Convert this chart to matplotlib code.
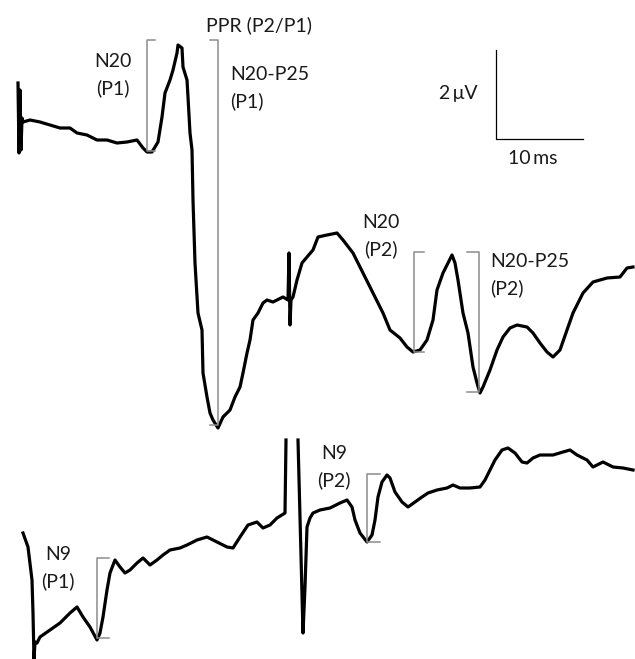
import numpy as np
import matplotlib
matplotlib.use("Agg")
import matplotlib.pyplot as plt

# Cortical trace (N20 for pulse 1 and pulse 2)
top_t = [18, 19, 20, 21, 22, 23, 30, 40, 50, 60, 70, 77, 87, 97, 107, 117, 127, 137,
         143, 147, 152, 155, 158, 162, 165, 170, 173, 177, 178, 182, 183, 187, 188,
         190, 192, 193, 195, 198, 202, 203, 207, 210, 213, 218, 223, 230, 235, 240,
         243, 247, 250, 253, 258, 263, 267, 273, 283, 288, 289, 290, 291, 293, 297,
         302, 307, 313, 318, 327, 337, 343, 353, 363, 373, 383, 390, 400, 407, 413,
         420, 427, 433, 437, 443, 448, 452, 455, 458, 463, 468, 473, 477, 480, 483,
         490, 497, 503, 510, 517, 527, 533, 540, 547, 553, 560, 567, 573, 583, 593,
         607, 620, 627, 633]
top_v = [83, 153, 90, 150, 118, 122, 120, 122, 125, 128, 128, 133, 135, 140, 140, 143,
         142, 140, 148, 152, 152, 147, 142, 117, 93, 80, 70, 53, 45, 48, 67, 80, 97,
         133, 150, 200, 263, 313, 330, 373, 397, 413, 420, 428, 417, 410, 397, 387,
         373, 353, 340, 320, 313, 303, 300, 302, 297, 300, 253, 325, 300, 297, 280,
         263, 257, 250, 237, 235, 233, 240, 253, 273, 293, 313, 330, 338, 347, 352,
         350, 340, 320, 290, 273, 263, 255, 263, 280, 313, 333, 367, 383, 393, 387,
         370, 350, 337, 328, 325, 327, 333, 343, 352, 357, 350, 330, 313, 293, 282,
         278, 277, 268, 267]

# Peripheral trace (N9 for pulse 1 and pulse 2); gap = clipped stimulus artefact
bot_t = [23, 28, 32, 33, 34, 35, 37, 40, 50, 60, 70, 77, 83, 90, 97, 100, 103, 107,
         110, 115, 120, 125, 130, 137, 143, 150, 157, 163, 170, 180, 187, 197, 207,
         217, 227, 233, 240, 248, 257, 263, 270, 277, 285, 286, np.nan,
         298, 303, 305, 307, 310, 313, 320, 330, 340, 347, 352, 355, 360, 367, 372,
         375, 378, 382, 387, 390, 395, 402, 408, 415, 422, 428, 437, 447, 453, 460,
         470, 480, 485, 490, 495, 502, 508, 515, 522, 527, 533, 540, 553, 563, 570,
         577, 587, 593, 603, 613, 623, 633]
bot_v = [533, 547, 580, 613, 659, 642, 643, 637, 630, 623, 613, 607, 617, 627, 640,
         633, 617, 590, 573, 560, 567, 573, 570, 563, 558, 565, 560, 555, 550, 548,
         545, 540, 537, 542, 547, 548, 537, 525, 522, 528, 525, 518, 513, 440, np.nan,
         440, 633, 587, 527, 518, 513, 510, 508, 503, 500, 507, 520, 533, 542, 535,
         520, 497, 482, 475, 478, 492, 502, 507, 502, 497, 493, 490, 488, 485, 488,
         488, 487, 480, 470, 460, 450, 448, 453, 462, 463, 458, 455, 455, 452, 450,
         455, 460, 467, 462, 467, 468, 470]

# measurement brackets: x, top, bottom, tick direction
brackets = [
    (147, 40, 151, +8),
    (218, 40, 425, -8),
    (414, 252, 352, +10),
    (479, 252, 392, -12),
    (97, 558, 638, +12),
    (367, 474, 542, +13),
]

labels = [
    ("PPR (P2/P1)", 259, 25, "center"),
    ("N20\n(P1)", 113, 75, "center"),
    ("N20-P25\n(P1)", 230, 88, "left"),
    ("N20\n(P2)", 381, 236, "center"),
    ("N20-P25\n(P2)", 490, 275, "left"),
    ("N9\n(P1)", 58, 568, "center"),
    ("N9\n(P2)", 334, 467, "center"),
]

font = ["Lato", "DejaVu Sans"]
ink = "#1a1a1a"

fig = plt.figure(figsize=(6.35, 6.59), dpi=100)
ax = fig.add_axes([0, 0, 1, 1])
ax.set_xlim(0, 635)
ax.set_ylim(659, 0)
ax.axis("off")

ax.plot(top_t, top_v, color="black", lw=2.3, solid_joinstyle="round")
ax.plot(bot_t, bot_v, color="black", lw=2.3, solid_joinstyle="round")

gray = "#8c8c8c"
for x, y0, y1, d in brackets:
    ax.plot([x + d, x, x, x + d], [y0, y0, y1, y1], color=gray, lw=1.1)

# scale bar 10 ms / 2 uV
ax.plot([496, 496, 583], [50, 139, 139], color="black", lw=0.9)
ax.text(478, 94, "2\u2009\u03bcV", ha="right", va="center", fontsize=14,
        family=font, color=ink)
ax.text(533, 158, "10\u2009ms", ha="center", va="center", fontsize=14,
        family=font, color=ink)

for txt, x, y, ha in labels:
    ax.text(x, y, txt, ha=ha, va="center", fontsize=14, linespacing=1.6,
            family=font, color=ink)

fig.savefig("out.png", dpi=100)
